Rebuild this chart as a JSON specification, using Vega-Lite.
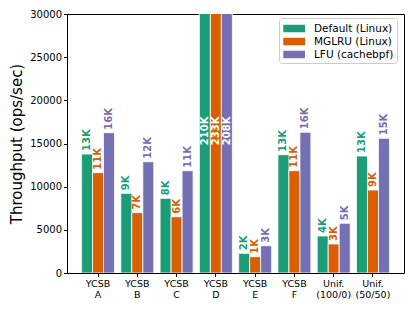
{
  "$schema": "https://vega.github.io/schema/vega-lite/v6.json",
  "width": 337,
  "height": 259,
  "autosize": {"type": "none"},
  "padding": {"left": 67, "top": 14, "right": 11, "bottom": 38},
  "config": {
    "font": "DejaVu Sans",
    "view": {"stroke": "black", "strokeWidth": 1},
    "axis": {"domainColor": "black", "tickColor": "black", "labelColor": "black", "titleColor": "black", "grid": false, "labelFont": "DejaVu Sans", "titleFont": "DejaVu Sans"}
  },
  "data": {
    "values": [
      {"workload": "YCSB A", "policy": "Default (Linux)", "value": 13780, "label": "13K"},
      {"workload": "YCSB A", "policy": "MGLRU (Linux)", "value": 11620, "label": "11K"},
      {"workload": "YCSB A", "policy": "LFU (cachebpf)", "value": 16250, "label": "16K"},
      {"workload": "YCSB B", "policy": "Default (Linux)", "value": 9230, "label": "9K"},
      {"workload": "YCSB B", "policy": "MGLRU (Linux)", "value": 6990, "label": "7K"},
      {"workload": "YCSB B", "policy": "LFU (cachebpf)", "value": 12890, "label": "12K"},
      {"workload": "YCSB C", "policy": "Default (Linux)", "value": 8650, "label": "8K"},
      {"workload": "YCSB C", "policy": "MGLRU (Linux)", "value": 6520, "label": "6K"},
      {"workload": "YCSB C", "policy": "LFU (cachebpf)", "value": 11850, "label": "11K"},
      {"workload": "YCSB D", "policy": "Default (Linux)", "value": 210000, "label": "210K"},
      {"workload": "YCSB D", "policy": "MGLRU (Linux)", "value": 233000, "label": "233K"},
      {"workload": "YCSB D", "policy": "LFU (cachebpf)", "value": 208000, "label": "208K"},
      {"workload": "YCSB E", "policy": "Default (Linux)", "value": 2280, "label": "2K"},
      {"workload": "YCSB E", "policy": "MGLRU (Linux)", "value": 1890, "label": "1K"},
      {"workload": "YCSB E", "policy": "LFU (cachebpf)", "value": 3160, "label": "3K"},
      {"workload": "YCSB F", "policy": "Default (Linux)", "value": 13700, "label": "13K"},
      {"workload": "YCSB F", "policy": "MGLRU (Linux)", "value": 11850, "label": "11K"},
      {"workload": "YCSB F", "policy": "LFU (cachebpf)", "value": 16300, "label": "16K"},
      {"workload": "Unif. (100/0)", "policy": "Default (Linux)", "value": 4290, "label": "4K"},
      {"workload": "Unif. (100/0)", "policy": "MGLRU (Linux)", "value": 3360, "label": "3K"},
      {"workload": "Unif. (100/0)", "policy": "LFU (cachebpf)", "value": 5760, "label": "5K"},
      {"workload": "Unif. (50/50)", "policy": "Default (Linux)", "value": 13550, "label": "13K"},
      {"workload": "Unif. (50/50)", "policy": "MGLRU (Linux)", "value": 9610, "label": "9K"},
      {"workload": "Unif. (50/50)", "policy": "LFU (cachebpf)", "value": 15600, "label": "15K"}
    ]
  },
  "encoding": {
    "x": {
      "field": "workload", "type": "nominal", "sort": null,
      "scale": {"paddingInner": 0.16, "paddingOuter": 0.37},
      "axis": {"title": null, "labelAngle": 0, "labelExpr": "split(datum.label, ' ')", "labelFontSize": 9.5, "labelLineHeight": 11, "tickSize": 3.5, "labelPadding": 2, "domain": false}
    },
    "xOffset": {"field": "policy", "type": "nominal", "scale": {"domain": ["Default (Linux)", "MGLRU (Linux)", "LFU (cachebpf)"], "paddingInner": 0, "paddingOuter": 0}}
  },
  "layer": [
    {
      "mark": {"type": "bar", "clip": true, "stroke": "white", "strokeWidth": 0.8},
      "encoding": {
        "y": {
          "field": "value", "type": "quantitative",
          "scale": {"domain": [0, 30000], "nice": false},
          "axis": {"title": "Throughput (ops/sec)", "titleFontSize": 15, "titleFontWeight": "normal", "titleX": -51, "titleY": 129.5, "titleAngle": 270, "titleBaseline": "middle", "titleAlign": "center", "values": [0, 5000, 10000, 15000, 20000, 25000, 30000], "format": "d", "labelFontSize": 10, "tickSize": 3.5, "labelPadding": 2, "domain": false}
        },
        "color": {
          "field": "policy", "type": "nominal",
          "scale": {"domain": ["Default (Linux)", "MGLRU (Linux)", "LFU (cachebpf)"], "range": ["#1b9e77", "#d95f02", "#7570b3"]},
          "legend": {
            "title": null, "orient": "none", "legendX": 212, "legendY": 4,
            "strokeColor": "#cccccc", "fillColor": "white", "cornerRadius": 3, "padding": 3,
            "symbolType": "M-0.83,-0.5L2.07,-0.5L2.07,0.5L-0.83,0.5Z", "symbolSize": 225,
            "symbolStrokeWidth": 0, "symbolOpacity": 1, "rowPadding": 0, "labelOffset": 17, "labelFontSize": 10.5, "labelColor": "black", "labelFont": "DejaVu Sans"
          }
        }
      }
    },
    {
      "transform": [{"filter": "datum.value <= 30000"}],
      "mark": {"type": "text", "angle": 270, "align": "left", "baseline": "middle", "dx": 3, "fontSize": 10, "fontWeight": "bold"},
      "encoding": {
        "y": {"field": "value", "type": "quantitative"},
        "text": {"field": "label"},
        "color": {"field": "policy", "type": "nominal", "legend": null}
      }
    },
    {
      "transform": [{"filter": "datum.value > 30000"}],
      "mark": {"type": "text", "angle": 270, "align": "left", "baseline": "middle", "dx": 0, "fontSize": 10, "fontWeight": "bold", "color": "white"},
      "encoding": {
        "y": {"datum": 14800, "type": "quantitative"},
        "text": {"field": "label"}
      }
    }
  ]
}
